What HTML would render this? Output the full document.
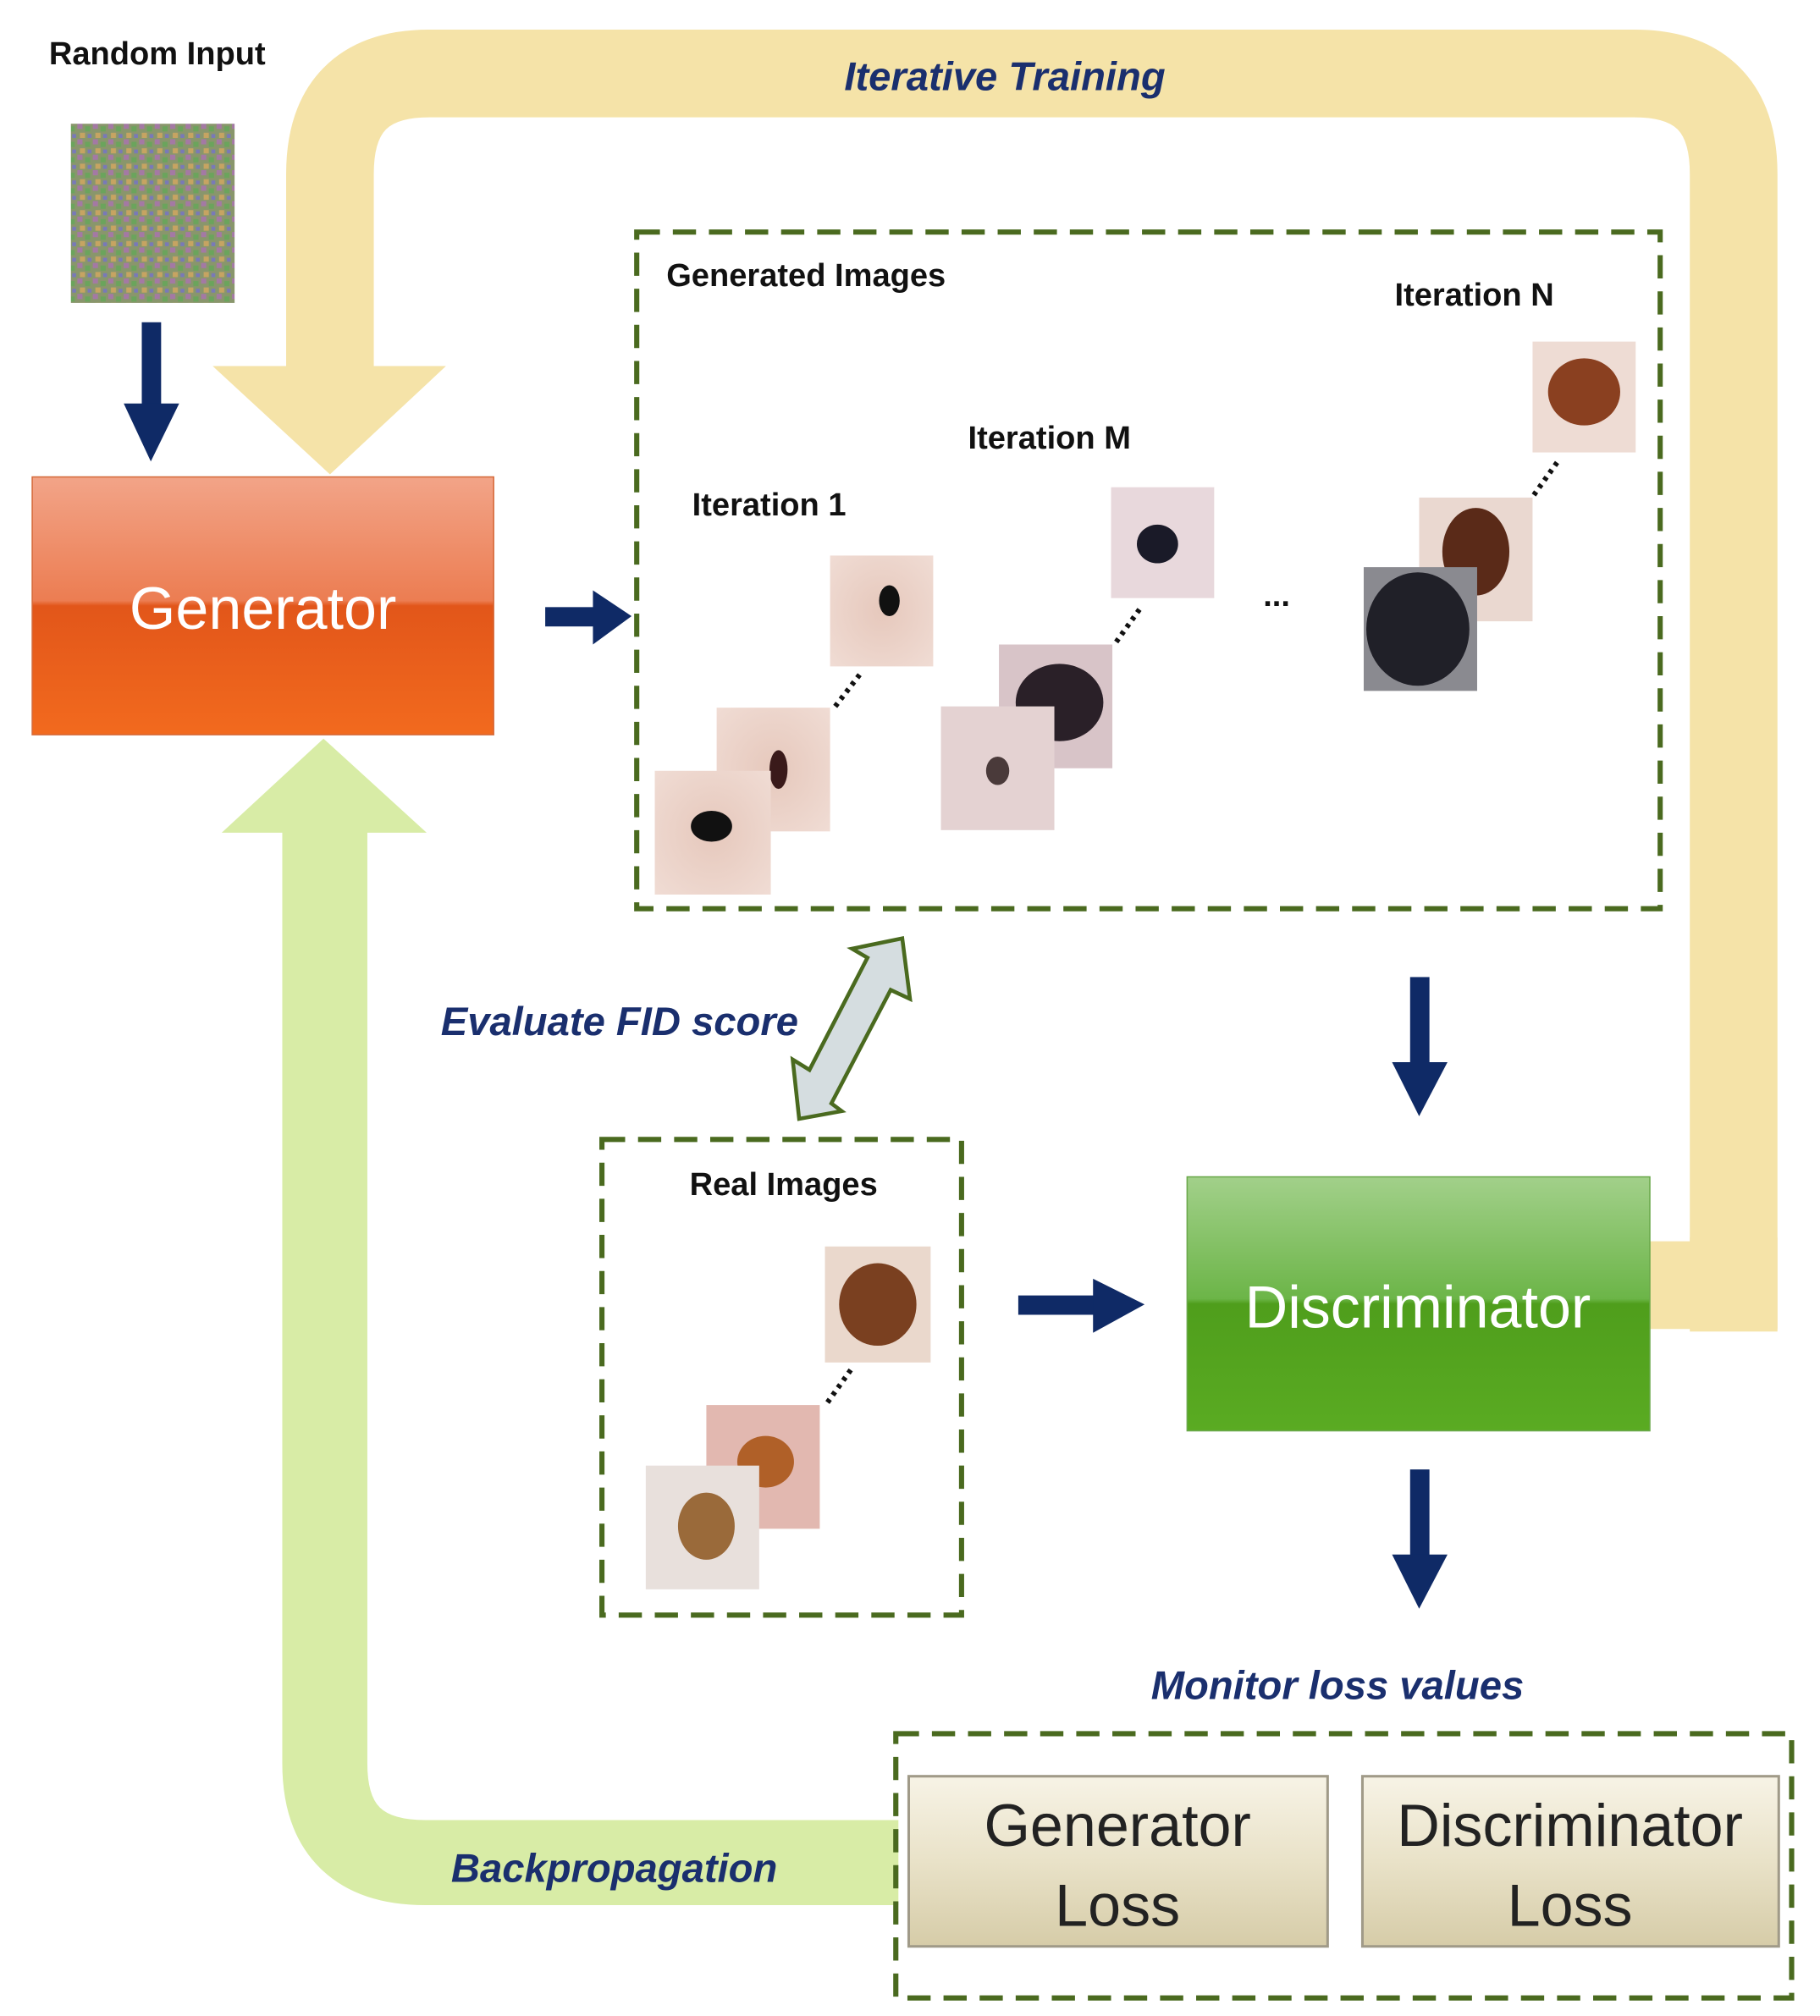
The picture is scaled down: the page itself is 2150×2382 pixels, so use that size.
<!DOCTYPE html>
<html><head><meta charset="utf-8"><style>
html,body{margin:0;padding:0;background:#fff}
svg{display:block}
text{font-family:"Liberation Sans",sans-serif}
.lbl{font-size:25px;font-weight:bold;fill:#111}
.it{font-size:31px;font-weight:bold;font-style:italic;fill:#1a2f6e}
</style></head><body>
<svg width="2150" height="2382" viewBox="0 0 1412 1564" preserveAspectRatio="none" xmlns="http://www.w3.org/2000/svg">
<defs>
<linearGradient id="gOr" x1="0" y1="0" x2="0" y2="1"><stop offset="0" stop-color="#f2a488"/><stop offset="0.48" stop-color="#ec7d52"/><stop offset="0.5" stop-color="#e2561a"/><stop offset="1" stop-color="#f26a1e"/></linearGradient>
<linearGradient id="gGr" x1="0" y1="0" x2="0" y2="1"><stop offset="0" stop-color="#a2d08a"/><stop offset="0.48" stop-color="#6cb548"/><stop offset="0.5" stop-color="#4f9e1c"/><stop offset="1" stop-color="#5aab22"/></linearGradient>
<linearGradient id="gBe" x1="0" y1="0" x2="0" y2="1"><stop offset="0" stop-color="#f7f3e6"/><stop offset="0.5" stop-color="#e9e2c8"/><stop offset="1" stop-color="#d6cca8"/></linearGradient>
<radialGradient id="skin" cx="0.5" cy="0.5" r="0.7"><stop offset="0" stop-color="#e6c8bc"/><stop offset="1" stop-color="#f0dcd4"/></radialGradient>
<pattern id="noise" width="12" height="12" patternUnits="userSpaceOnUse">
<rect width="12" height="12" fill="#7c8a5c"/><rect width="4" height="4" fill="#9a6a9a"/><rect x="6" y="2" width="4" height="4" fill="#5a9a4a"/><rect x="2" y="7" width="4" height="4" fill="#c09a50"/><rect x="8" y="8" width="3" height="3" fill="#6a6ab0"/></pattern>
</defs>

<!-- yellow loop -->
<path d="M1280 997 H1345 V135 Q1345 57 1268 57 H333 Q256 57 256 135 V290" fill="none" stroke="#f5e3a8" stroke-width="68"/>
<rect x="1311" y="960" width="68" height="73" fill="#f5e3a8"/>
<polygon points="165,284 346,284 256,368" fill="#f5e3a8"/>
<!-- green loop -->
<path d="M697 1445 H330 Q252 1445 252 1368 V640" fill="none" stroke="#d8eca6" stroke-width="66"/>
<polygon points="172,646 331,646 251,573" fill="#d8eca6"/>

<text x="38" y="50" class="lbl">Random Input</text>
<rect x="55" y="96" width="127" height="139" fill="url(#noise)" opacity="0.9"/>

<!-- navy arrows -->
<g fill="#0f2a66">
<rect x="110" y="250" width="15" height="65"/><polygon points="96,313 139,313 117,358"/>
<rect x="423" y="471" width="40" height="15"/><polygon points="460,458 460,500 490,478"/>
<rect x="1094" y="758" width="15" height="68"/><polygon points="1080,824 1123,824 1101,866"/>
<rect x="790" y="1005" width="60" height="15"/><polygon points="848,992 848,1034 888,1012"/>
<rect x="1094" y="1140" width="15" height="68"/><polygon points="1080,1206 1123,1206 1101,1248"/>
</g>

<rect x="25" y="370" width="358" height="200" fill="url(#gOr)" stroke="#d56a3a" stroke-width="1"/>
<text x="204" y="488" text-anchor="middle" font-size="46" fill="#fff">Generator</text>

<rect x="494" y="180" width="794" height="525" fill="none" stroke="#4a6a1f" stroke-width="4" stroke-dasharray="18,10"/>
<text x="517" y="222" class="lbl">Generated Images</text>
<text x="1082" y="237" class="lbl">Iteration N</text>
<text x="751" y="348" class="lbl">Iteration M</text>
<text x="537" y="400" class="lbl">Iteration 1</text>
<text x="980" y="470" class="lbl">...</text>

<g>
<rect x="644" y="431" width="80" height="86" fill="url(#skin)"/><ellipse cx="690" cy="466" rx="8" ry="12" fill="#111"/>
<rect x="556" y="549" width="88" height="96" fill="url(#skin)"/><ellipse cx="604" cy="597" rx="7" ry="15" fill="#3a1a1a"/>
<rect x="508" y="598" width="90" height="96" fill="url(#skin)"/><ellipse cx="552" cy="641" rx="16" ry="12" fill="#111"/>
<line x1="648" y1="548" x2="668" y2="522" stroke="#111" stroke-width="4" stroke-dasharray="3,4"/>

<rect x="862" y="378" width="80" height="86" fill="#e8d8dc"/><ellipse cx="898" cy="422" rx="16" ry="15" fill="#1a1a28"/>
<rect x="775" y="500" width="88" height="96" fill="#d8c4c8"/><ellipse cx="822" cy="545" rx="34" ry="30" fill="#2a2028"/>
<rect x="730" y="548" width="88" height="96" fill="#e4d2d2"/><ellipse cx="774" cy="598" rx="9" ry="11" fill="#4a3a3a"/>
<line x1="866" y1="498" x2="886" y2="470" stroke="#111" stroke-width="4" stroke-dasharray="3,4"/>

<rect x="1189" y="265" width="80" height="86" fill="#eedcd4"/><ellipse cx="1229" cy="304" rx="28" ry="26" fill="#8a4020"/>
<rect x="1101" y="386" width="88" height="96" fill="#ead8d0"/><ellipse cx="1145" cy="428" rx="26" ry="34" fill="#5a2a18"/>
<rect x="1058" y="440" width="88" height="96" fill="#8a8a90"/><ellipse cx="1100" cy="488" rx="40" ry="44" fill="#202028"/>
<line x1="1190" y1="384" x2="1210" y2="356" stroke="#111" stroke-width="4" stroke-dasharray="3,4"/>
</g>

<!-- double arrow -->
<polygon points="700,728 706,775 691,768 645,856 653,862 620,868 615,822 628,830 673,743 661,736" fill="#d5dde0" stroke="#4a6a1f" stroke-width="3"/>
<text x="342" y="803" class="it">Evaluate FID score</text>

<rect x="467" y="884" width="279" height="369" fill="none" stroke="#4a6a1f" stroke-width="4" stroke-dasharray="18,10"/>
<text x="535" y="927" class="lbl">Real Images</text>
<rect x="640" y="967" width="82" height="90" fill="#ead8cc"/><ellipse cx="681" cy="1012" rx="30" ry="32" fill="#7a4020"/>
<rect x="548" y="1090" width="88" height="96" fill="#e2b8b0"/><ellipse cx="594" cy="1134" rx="22" ry="20" fill="#b06028"/>
<rect x="501" y="1137" width="88" height="96" fill="#e8e0dc"/><ellipse cx="548" cy="1184" rx="22" ry="26" fill="#9a6a3a"/>
<line x1="642" y1="1088" x2="662" y2="1060" stroke="#111" stroke-width="4" stroke-dasharray="3,4"/>

<rect x="921" y="913" width="359" height="197" fill="url(#gGr)" stroke="#6aa84a" stroke-width="1"/>
<text x="1100" y="1030" text-anchor="middle" font-size="46" fill="#fff">Discriminator</text>

<text x="893" y="1318" class="it">Monitor loss values</text>
<text x="655" y="70" class="it" font-size="33">Iterative Training</text>
<text x="350" y="1460" class="it">Backpropagation</text>

<rect x="695" y="1345" width="695" height="205" fill="none" stroke="#4a6a1f" stroke-width="4" stroke-dasharray="18,10"/>
<rect x="705" y="1378" width="325" height="132" fill="url(#gBe)" stroke="#a09a88" stroke-width="2"/>
<text x="867" y="1432" text-anchor="middle" font-size="46" fill="#222">Generator</text>
<text x="867" y="1494" text-anchor="middle" font-size="46" fill="#222">Loss</text>
<rect x="1057" y="1378" width="323" height="132" fill="url(#gBe)" stroke="#a09a88" stroke-width="2"/>
<text x="1218" y="1432" text-anchor="middle" font-size="46" fill="#222">Discriminator</text>
<text x="1218" y="1494" text-anchor="middle" font-size="46" fill="#222">Loss</text>
</svg>
</body></html>
